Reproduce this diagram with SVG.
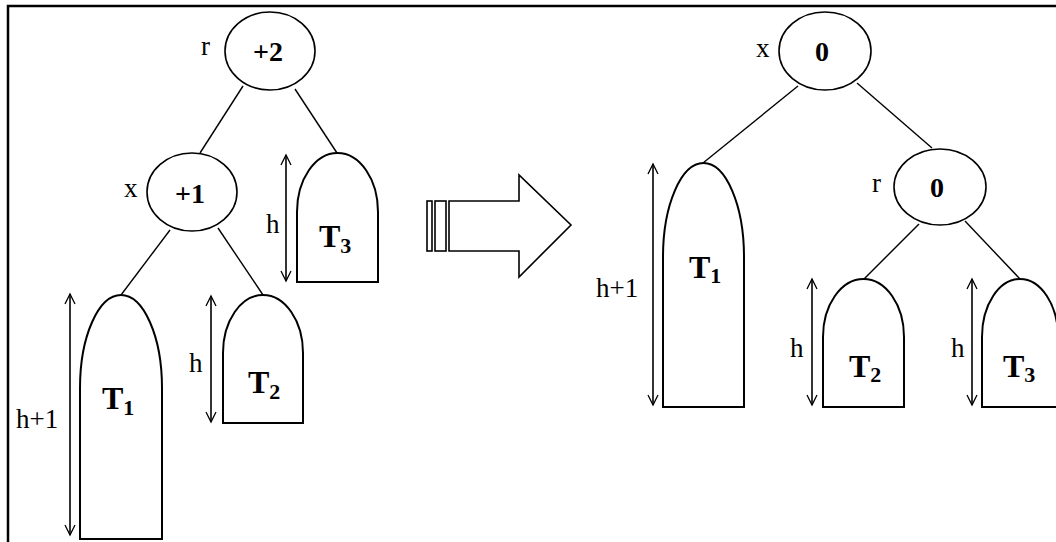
<svg xmlns="http://www.w3.org/2000/svg" width="1056" height="542" viewBox="0 0 1056 542">
<style>
.bg{fill:#fff}
.frame{fill:none;stroke:#000;stroke-width:2.5}
.node{fill:#fff;stroke:#000;stroke-width:1.6}
.tree{fill:#fff;stroke:#000;stroke-width:2}
.edge{stroke:#000;stroke-width:1.4;fill:none}
.dim{stroke:#000;stroke-width:1.6;fill:none;marker-start:url(#v);marker-end:url(#v)}
.bal{font-family:"Liberation Serif","Times New Roman",serif;font-weight:bold;font-size:28px;text-anchor:middle}
.lbl{font-family:"Liberation Serif","Times New Roman",serif;font-size:27px}
.tn{font-family:"Liberation Serif","Times New Roman",serif;font-weight:bold;font-size:32px}
.sub{font-size:22px}
.big{fill:#fff;stroke:#000;stroke-width:1.6}
</style>
<defs>
<marker id="v" viewBox="-12 -7 14 14" refX="0" refY="0" markerWidth="14" markerHeight="14" markerUnits="userSpaceOnUse" orient="auto-start-reverse" overflow="visible">
<path d="M-10,-5 L0,0 L-10,5" fill="none" stroke="#000" stroke-width="1.3"/>
</marker>
</defs>
<rect class="bg" x="0" y="0" width="1056" height="542"/>
<path class="frame" d="M8,542 V6 H1056"/>

<g id="connectors">
<line class="edge" x1="243" y1="86" x2="200" y2="153"/>
<line class="edge" x1="295" y1="89" x2="337" y2="153"/>
<line class="edge" x1="170" y1="230" x2="121" y2="295"/>
<line class="edge" x1="218" y1="228" x2="263" y2="295"/>
<line class="edge" x1="798" y1="86" x2="703" y2="163"/>
<line class="edge" x1="857" y1="83" x2="932" y2="148"/>
<line class="edge" x1="919" y1="224" x2="864" y2="279"/>
<line class="edge" x1="965" y1="221" x2="1020" y2="279"/>
</g>

<g id="left-r">
<ellipse class="node" cx="270" cy="51" rx="45" ry="39"/>
<text class="bal" x="268" y="61">+2</text>
<text class="lbl" x="201" y="55">r</text>
</g>
<g id="left-x">
<ellipse class="node" cx="192" cy="192" rx="45" ry="39"/>
<text class="bal" x="190" y="203">+1</text>
<text class="lbl" x="124" y="197">x</text>
</g>
<g id="left-T3">
<path class="tree" d="M297,212 A40.5,59 0 0 1 378,212 V282 H297 Z"/>
<text class="tn" x="319" y="247">T<tspan class="sub" dy="6">3</tspan></text>
<line class="dim" x1="286" y1="155" x2="286" y2="281"/>
<text class="lbl" x="266" y="233">h</text>
</g>
<g id="left-T1">
<path class="tree" d="M80,388 A41,93 0 0 1 162,388 V539 H80 Z"/>
<text class="tn" x="102" y="409">T<tspan class="sub" dy="6">1</tspan></text>
<line class="dim" x1="70" y1="294" x2="70" y2="535"/>
<text class="lbl" x="16" y="428">h+1</text>
</g>
<g id="left-T2">
<path class="tree" d="M223,353 A40,58 0 0 1 303,353 V423 H223 Z"/>
<text class="tn" x="248" y="393">T<tspan class="sub" dy="6">2</tspan></text>
<line class="dim" x1="211" y1="296" x2="211" y2="422"/>
<text class="lbl" x="189" y="372">h</text>
</g>

<g id="transform-arrow">
<rect class="big" x="427" y="201" width="5" height="50"/>
<rect class="big" x="435" y="201" width="11" height="50"/>
<path class="big" d="M449,201 H519 V175 L571,225 L519,277 V251 H449 Z"/>
</g>

<g id="right-x">
<ellipse class="node" cx="825" cy="51" rx="46" ry="39"/>
<text class="bal" x="822" y="61">0</text>
<text class="lbl" x="756" y="57">x</text>
</g>
<g id="right-r">
<ellipse class="node" cx="940" cy="187" rx="46" ry="38"/>
<text class="bal" x="937" y="197">0</text>
<text class="lbl" x="872" y="192">r</text>
</g>
<g id="right-T1">
<path class="tree" d="M663,257 A40.5,94 0 0 1 744,257 V407 H663 Z"/>
<text class="tn" x="689" y="278">T<tspan class="sub" dy="5">1</tspan></text>
<line class="dim" x1="653" y1="164" x2="653" y2="405"/>
<text class="lbl" x="596" y="297">h+1</text>
</g>
<g id="right-T2">
<path class="tree" d="M823,337 A40.5,58 0 0 1 904,337 V407 H823 Z"/>
<text class="tn" x="849" y="377">T<tspan class="sub" dy="5">2</tspan></text>
<line class="dim" x1="812" y1="279" x2="812" y2="405"/>
<text class="lbl" x="790" y="357">h</text>
</g>
<g id="right-T3">
<path class="tree" d="M982,337 A38,58 0 0 1 1058,337 V407 H982 Z"/>
<text class="tn" x="1003" y="377">T<tspan class="sub" dy="5">3</tspan></text>
<line class="dim" x1="972" y1="279" x2="972" y2="405"/>
<text class="lbl" x="951" y="357">h</text>
</g>
</svg>
